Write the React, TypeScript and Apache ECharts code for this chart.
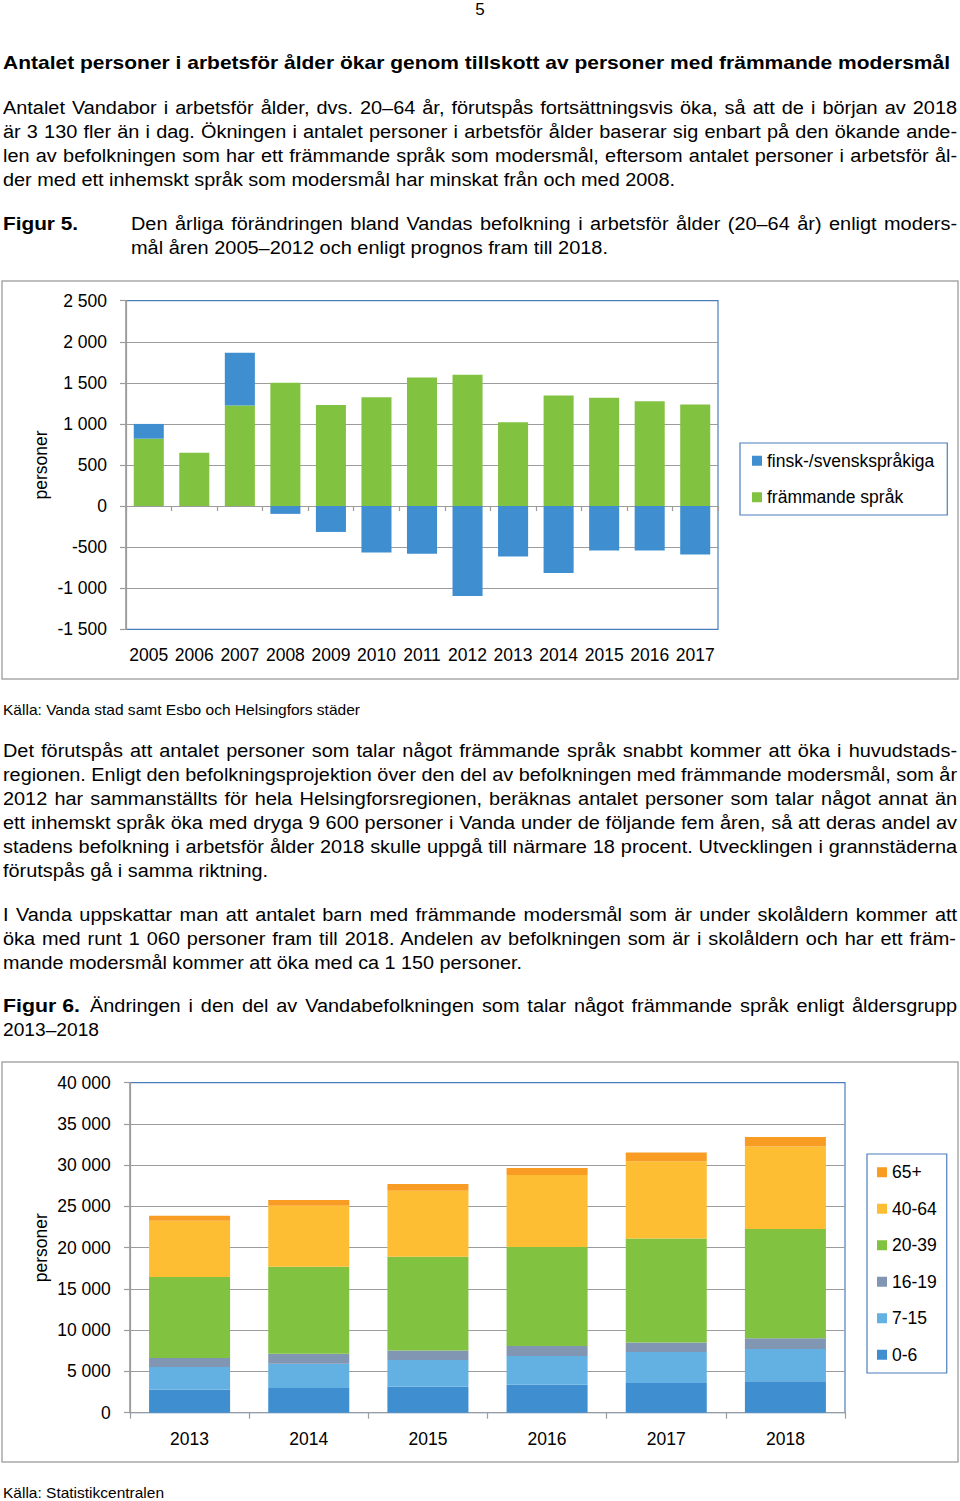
import React, { useEffect, useRef } from "react";
import * as echarts from "echarts";

// ---------- Figure 5 data ----------
const fig5Years = ["2005", "2006", "2007", "2008", "2009", "2010", "2011", "2012", "2013", "2014", "2015", "2016", "2017"];
const fig5Native = [180, 0, 640, -95, -315, -565, -580, -1095, -615, -815, -540, -540, -590];
const fig5Foreign = [820, 650, 1225, 1500, 1230, 1325, 1565, 1600, 1020, 1345, 1320, 1275, 1235];
const fig5Names = ["finsk-/svenskspråkiga", "främmande språk"];

// ---------- Figure 6 data ----------
const fig6Years = ["2013", "2014", "2015", "2016", "2017", "2018"];
const fig6Age0_6 = [2800, 2990, 3150, 3390, 3600, 3800];
const fig6Age7_15 = [2730, 2950, 3230, 3480, 3750, 3920];
const fig6Age16_19 = [1090, 1210, 1170, 1210, 1170, 1290];
const fig6Age20_39 = [9820, 10545, 11350, 12000, 12600, 13250];
const fig6Age40_64 = [6830, 7390, 8000, 8730, 9370, 10020];
const fig6Age65 = [610, 690, 810, 850, 1050, 1130];
const fig6Names = ["0-6", "7-15", "16-19", "20-39", "40-64", "65+"];

const FONT = '"Liberation Sans", Arial, Helvetica, sans-serif';
const GRAY = "#9c9c9c";
const BORDER_BLUE = "#4a7ebb";
const C_BLUE = "#3f8ed0";
const C_GREEN = "#82c241";
const C_LIGHTBLUE = "#63b0e2";
const C_GRAYBLUE = "#8096b2";
const C_YELLOW = "#fdbe33";
const C_ORANGE = "#f89c24";

const fmt = (v: number) =>
  (v < 0 ? "-" : "") + String(Math.abs(v)).replace(/\B(?=(\d{3})+(?!\d))/g, " ");

// ---------- text measuring ----------
const measureCtx = document.createElement("canvas").getContext("2d") as CanvasRenderingContext2D;
function textWidth(t: string, font: string) {
  measureCtx.font = font;
  return measureCtx.measureText(t).width;
}

type LineProps = {
  text: string;
  x: number;
  cy: number;
  w: number;
  size?: number;
  bold?: boolean;
  justify?: boolean;
  lh?: number;
};

function Line({ text, x, cy, w, size = 18, bold = false, justify = false, lh = 24 }: LineProps) {
  const font = `${bold ? "bold " : ""}${size}px "Liberation Sans"`;
  const nat = textWidth(text, font);
  let scale = w / nat;
  let ws = 0;
  if (justify) {
    scale = 1.105;
    const avail = w / scale;
    const n = (text.match(/ /g) || []).length;
    if (nat <= avail && n > 0) ws = (avail - nat) / n;
    else scale = w / nat;
  }
  return (
    <div
      style={{
        position: "absolute",
        left: x,
        top: cy - lh / 2,
        height: lh,
        lineHeight: `${lh}px`,
        whiteSpace: "pre",
        fontFamily: FONT,
        fontSize: size,
        fontWeight: bold ? 700 : 400,
        wordSpacing: ws,
        transform: `scaleX(${scale})`,
        transformOrigin: "0 0",
        color: "#000",
      }}
    >
      {text}
    </div>
  );
}

function EChart({ option, style }: { option: any; style: React.CSSProperties }) {
  const ref = useRef<HTMLDivElement>(null);
  useEffect(() => {
    const chart = echarts.init(ref.current as HTMLDivElement, null, { renderer: "svg" });
    chart.setOption(option);
    return () => chart.dispose();
  }, []);
  return <div ref={ref} style={style} />;
}

const yAxisCommon = {
  type: "value",
  name: "personer",
  nameLocation: "middle",
  nameRotate: 90,
  nameMoveOverlap: false,
  nameTextStyle: { fontSize: 17.5, color: "#000", fontFamily: FONT },
  axisLine: { show: true, lineStyle: { color: GRAY, width: 1.2 } },
  axisTick: { show: true, length: 6, inside: false, lineStyle: { color: GRAY, width: 1.2 } },
  splitLine: { show: true, showMinLine: false, showMaxLine: false, lineStyle: { color: GRAY, width: 1.2 } },
};

const fig5Option = {
  animation: false,
  textStyle: { fontFamily: FONT, color: "#000" },
  graphic: [
    {
      type: "rect",
      silent: true,
      shape: { x: 2, y: 1, width: 956, height: 398 },
      style: { fill: "none", stroke: "#a9a9a9", lineWidth: 1.5 },
    },
  ],
  grid: {
    left: 126,
    top: 20.7,
    width: 592,
    height: 328.6,
    show: true,
    borderColor: BORDER_BLUE,
    borderWidth: 1.2,
    backgroundColor: "transparent",
    containLabel: false,
    outerBoundsMode: "none",
  },
  legend: {
    orient: "vertical",
    left: 740,
    top: 163,
    data: fig5Names,
    icon: "rect",
    itemWidth: 10,
    itemHeight: 10,
    itemGap: 18.5,
    padding: [8.75, 13, 8.75, 12],
    borderColor: BORDER_BLUE,
    borderWidth: 1.2,
    selectedMode: false,
    textStyle: { fontSize: 17.5, color: "#000", fontFamily: FONT },
  },
  xAxis: [
    {
      type: "category",
      data: fig5Years,
      position: "bottom",
      axisLine: { show: true, onZero: true, lineStyle: { color: GRAY, width: 1.2 } },
      axisTick: { show: true, length: 5, interval: 0, lineStyle: { color: GRAY, width: 1.2 } },
      axisLabel: { show: false },
      splitLine: { show: false },
    },
    {
      type: "category",
      data: fig5Years,
      position: "bottom",
      axisLine: { show: false, onZero: false },
      axisTick: { show: false },
      axisLabel: { interval: 0, margin: 17, fontSize: 17.5, color: "#000", fontFamily: FONT },
      splitLine: { show: false },
    },
  ],
  yAxis: {
    ...yAxisCommon,
    min: -1500,
    max: 2500,
    interval: 500,
    nameGap: 76,
    axisLabel: { margin: 19, fontSize: 17.5, color: "#000", fontFamily: FONT, formatter: fmt },
  },
  series: [
    {
      name: fig5Names[1],
      type: "bar",
      stack: "s",
      xAxisIndex: 0,
      barWidth: "66%",
      data: fig5Foreign,
      itemStyle: { color: C_GREEN },
    },
    {
      name: fig5Names[0],
      type: "bar",
      stack: "s",
      xAxisIndex: 0,
      barWidth: "66%",
      data: fig5Native,
      itemStyle: { color: C_BLUE },
    },
  ],
};

const fig6Series = [fig6Age0_6, fig6Age7_15, fig6Age16_19, fig6Age20_39, fig6Age40_64, fig6Age65];
const fig6Colors = [C_BLUE, C_LIGHTBLUE, C_GRAYBLUE, C_GREEN, C_YELLOW, C_ORANGE];

const fig6Option = {
  animation: false,
  textStyle: { fontFamily: FONT, color: "#000" },
  graphic: [
    {
      type: "rect",
      silent: true,
      shape: { x: 2, y: 2, width: 956, height: 400 },
      style: { fill: "none", stroke: "#a9a9a9", lineWidth: 1.5 },
    },
  ],
  grid: {
    left: 130,
    top: 22.7,
    width: 715,
    height: 330,
    show: true,
    borderColor: BORDER_BLUE,
    borderWidth: 1.2,
    backgroundColor: "transparent",
    containLabel: false,
    outerBoundsMode: "none",
  },
  legend: {
    orient: "vertical",
    left: 867,
    top: 94,
    data: [...fig6Names].reverse(),
    icon: "rect",
    itemWidth: 10,
    itemHeight: 10,
    itemGap: 18.5,
    padding: [9.25, 10, 9.25, 10],
    borderColor: BORDER_BLUE,
    borderWidth: 1.2,
    selectedMode: false,
    textStyle: { fontSize: 17.5, color: "#000", fontFamily: FONT },
  },
  xAxis: {
    type: "category",
    data: fig6Years,
    position: "bottom",
    axisLine: { show: true, onZero: true, lineStyle: { color: GRAY, width: 1.2 } },
    axisTick: { show: true, length: 6, interval: 0, lineStyle: { color: GRAY, width: 1.2 } },
    axisLabel: { interval: 0, margin: 17.5, fontSize: 17.5, color: "#000", fontFamily: FONT },
    splitLine: { show: false },
  },
  yAxis: {
    ...yAxisCommon,
    min: 0,
    max: 40000,
    interval: 5000,
    nameGap: 80,
    axisLabel: { margin: 19.3, fontSize: 17.5, color: "#000", fontFamily: FONT, formatter: fmt },
  },
  series: fig6Series.map((d, i) => ({
    name: fig6Names[i],
    type: "bar",
    stack: "age",
    barWidth: "68%",
    data: d,
    itemStyle: { color: fig6Colors[i] },
  })),
};

export default function App() {
  const W = 954;
  return (
    <div style={{ position: "relative", width: 960, height: 1501, overflow: "hidden", background: "#fff" }}>
      <style>{"body{margin:0;}"}</style>
      <div
        style={{
          position: "absolute",
          left: 0,
          top: 0,
          width: 960,
          height: 20,
          lineHeight: "20px",
          textAlign: "center",
          fontFamily: FONT,
          fontSize: 17,
          color: "#000",
        }}
      >
        5
      </div>

      <Line
        text="Antalet personer i arbetsför ålder ökar genom tillskott av personer med främmande modersmål"
        x={3}
        cy={63}
        w={947}
        size={19}
        bold
      />

      <Line justify x={3} cy={108} w={W} text="Antalet Vandabor i arbetsför ålder, dvs. 20–64 år, förutspås fortsättningsvis öka, så att de i början av 2018" />
      <Line justify x={3} cy={132} w={W} text="är 3 130 fler än i dag. Ökningen i antalet personer i arbetsför ålder baserar sig enbart på den ökande ande-" />
      <Line justify x={3} cy={156} w={W} text="len av befolkningen som har ett främmande språk som modersmål, eftersom antalet personer i arbetsför ål-" />
      <Line x={3} cy={180} w={672} text="der med ett inhemskt språk som modersmål har minskat från och med 2008." />

      <Line x={3} cy={224} w={75} size={19} bold text="Figur 5." />
      <Line justify x={131} cy={224} w={826} text="Den årliga förändringen bland Vandas befolkning i arbetsför ålder (20–64 år) enligt moders-" />
      <Line x={131} cy={248} w={477} text="mål åren 2005–2012 och enligt prognos fram till 2018." />

      <EChart option={fig5Option} style={{ position: "absolute", left: 0, top: 280, width: 960, height: 400 }} />

      <Line x={3} cy={710} w={357} size={15} lh={18} text="Källa: Vanda stad samt Esbo och Helsingfors städer" />

      <Line justify x={3} cy={751} w={W} text="Det förutspås att antalet personer som talar något främmande språk snabbt kommer att öka i huvudstads-" />
      <Line justify x={3} cy={775} w={W} text="regionen. Enligt den befolkningsprojektion över den del av befolkningen med främmande modersmål, som år" />
      <Line justify x={3} cy={799} w={W} text="2012 har sammanställts för hela Helsingforsregionen, beräknas antalet personer som talar något annat än" />
      <Line justify x={3} cy={823} w={W} text="ett inhemskt språk öka med dryga 9 600 personer i Vanda under de följande fem åren, så att deras andel av" />
      <Line justify x={3} cy={847} w={W} text="stadens befolkning i arbetsför ålder 2018 skulle uppgå till närmare 18 procent. Utvecklingen i grannstäderna" />
      <Line x={3} cy={871} w={265} text="förutspås gå i samma riktning." />

      <Line justify x={3} cy={915} w={W} text="I Vanda uppskattar man att antalet barn med främmande modersmål som är under skolåldern kommer att" />
      <Line justify x={3} cy={939} w={W} text="öka med runt 1 060 personer fram till 2018. Andelen av befolkningen som är i skolåldern och har ett främ-" />
      <Line x={3} cy={963} w={519} text="mande modersmål kommer att öka med ca 1 150 personer." />

      <Line x={3} cy={1006} w={77} size={19} bold text="Figur 6." />
      <Line justify x={90} cy={1006} w={867} text="Ändringen i den del av Vandabefolkningen som talar något främmande språk enligt åldersgrupp" />
      <Line x={3} cy={1030} w={96} text="2013–2018" />

      <EChart option={fig6Option} style={{ position: "absolute", left: 0, top: 1060, width: 960, height: 405 }} />

      <Line x={3} cy={1493} w={161} size={15} lh={16} text="Källa: Statistikcentralen" />
    </div>
  );
}
